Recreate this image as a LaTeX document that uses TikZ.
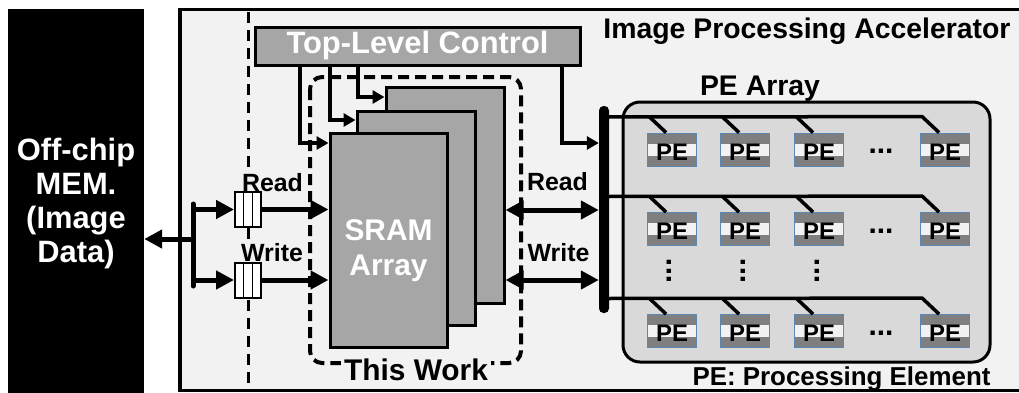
\documentclass[tikz,border=0pt]{standalone}
\usepackage{fontspec}
\setmainfont{Liberation Sans}
\usetikzlibrary{arrows.meta}
\definecolor{bgc}{HTML}{F2F2F2}
\definecolor{blkgray}{HTML}{A6A6A6}
\definecolor{pearr}{HTML}{D9D9D9}
\definecolor{pegray}{HTML}{7F7F7F}
\definecolor{peblue}{HTML}{5B87B5}
\newcommand{\fsz}[1]{\fontsize{#1}{#1}\selectfont}
\begin{document}
\begin{tikzpicture}[x=1bp,y=-1bp,font=\bfseries,
  bigarr/.style={line width=5bp,-{Triangle[length=18bp,width=18bp]}},
  dblarr/.style={line width=5bp,{Triangle[length=18bp,width=18bp]}-{Triangle[length=18bp,width=18bp]}},
  ctrlarr/.style={line width=3.5bp,-{Triangle[length=12bp,width=13bp]}},
  grayblk/.style={draw,line width=3bp,fill=blkgray,inner sep=0pt},
  regbox/.style={draw,line width=2bp,fill=white,minimum width=26bp,minimum height=35bp,inner sep=0pt,
     path picture={\draw[line width=1.5bp]
       ([xshift=-4.3bp]path picture bounding box.north) -- ([xshift=-4.3bp]path picture bounding box.south)
       ([xshift=4.3bp]path picture bounding box.north) -- ([xshift=4.3bp]path picture bounding box.south);}},
  pebox/.style={draw=peblue,line width=0.8bp,fill=pegray,minimum width=49bp,minimum height=33bp,inner sep=0pt,
     font=\bfseries\fsz{24},text height=21.5bp,text depth=0pt,
     path picture={\fill[bgc] ([yshift=6bp]path picture bounding box.west) rectangle ([yshift=-6bp]path picture bounding box.east);}},
  busline/.style={line width=3.5bp},
  txt/.style={inner sep=0pt,anchor=base},
  dotstxt/.style={inner sep=0pt,font=\bfseries\fsz{30}},
]
\useasboundingbox (0,0) rectangle (1019,392);
% accelerator frame
\draw[line width=3.5bp,fill=bgc] (180,9.5) rectangle (1024,390.5);
\coordinate (dtop) at (248,12);
\coordinate (dbot) at (248,390);
\draw[line width=3bp,dash pattern=on 11bp off 7bp] (dtop) -- (dbot);
\node[txt,font=\bfseries\fsz{28.5}] (title) at (807,38) {Image Processing Accelerator};
% off-chip memory
\node[fill=black,minimum width=136bp,minimum height=392bp,inner sep=0pt] (mem) at (76,204.5) {};
\node[text=white,align=center,font=\bfseries\fontsize{31}{34.3}\selectfont,inner sep=0pt] (memtxt) at (76,203.6) {Off-chip\\MEM.\\(Image\\Data)};
% top-level control
\node[grayblk,minimum width=325bp,minimum height=38bp,text=white,font=\bfseries\fsz{31}] (tlc) at (417.5,46) {Top-Level Control};
% SRAM arrays
\node[grayblk,minimum width=118bp,minimum height=216bp] (back) at (445,195) {};
\node[grayblk,minimum width=118bp,minimum height=214bp] (mid) at (416,218) {};
\node[grayblk,minimum width=117bp,minimum height=214bp] (front) at (388.5,240) {};
\node[text=white,align=center,font=\bfseries\fontsize{30}{35}\selectfont,inner sep=0pt] (sramt) at (388.5,250.5) {SRAM\\Array};
% this work
\draw[line width=4bp,dash pattern=on 11bp off 6bp,rounded corners=12bp] (310,77) rectangle (521,363);
\node[txt,fill=bgc,inner xsep=3bp,inner ysep=2bp,font=\bfseries\fsz{30}] (tw) at (416,380) {This Work};
% PE array
\node[draw,line width=3bp,fill=pearr,rounded corners=17bp,minimum width=367bp,minimum height=260bp,inner sep=0pt] (pearray) at (806.5,232) {};
\node[txt,font=\bfseries\fsz{28.5}] (pearrt) at (760,95) {PE Array};
\foreach \r/\y in {1/149.5,2/229,3/331} {
  \foreach \c/\x in {1/672,2/745,3/819,4/945} {
    \node[pebox] (pe\r\c) at (\x,\y) {PE};
  }
  \node[dotstxt,anchor=base] (hd\r) at (881,\y+4) {...};
}
\foreach \c/\x in {1/669.5,2/743,3/817} {
  \node[dotstxt,rotate=90] (vd\c) at (\x,271) {...};
}
\node[txt,font=\bfseries\fsz{26}] (pedef) at (841.5,385) {PE: Processing Element};
% bus bar
\node[fill=black,rounded corners=4.5bp,minimum width=10bp,minimum height=207bp,inner sep=0pt] (bar) at (604,209.5) {};
\foreach \r/\ly in {1/117,2/196.5,3/298.5} {
  \draw[busline] (pe\r4.north west) ++(19,0) -- ++(-17,-16) -- (bar.center |- 0,\ly);
  \foreach \c in {1,2,3} {
    \draw[busline] (pe\r\c.north west) ++(19,0) -- ++(-17,-16);
  }
}
% control arrows
\draw[ctrlarr] (300,0 |- tlc.south) |- (front.west |- 0,143);
\draw[ctrlarr] (330,0 |- tlc.south) |- (mid.west |- 0,120);
\draw[ctrlarr] (358,0 |- tlc.south) |- (back.west |- 0,97);
\draw[ctrlarr] (562,0 |- tlc.south) |- (bar.west |- 0,143);
% left side
\node[txt,fill=bgc,inner sep=1.5bp,font=\bfseries\fsz{25}] (rdl) at (272.5,191.5) {Read};
\node[txt,fill=bgc,inner sep=1.5bp,font=\bfseries\fsz{25}] (wrl) at (272,261.5) {Write};
\node[regbox] (rreg) at (248,209.5) {};
\node[regbox] (wreg) at (248,280) {};
\coordinate (jtop) at (193,204);
\coordinate (jbot) at (193,286);
\coordinate (jt) at (193,209.5);
\coordinate (jb) at (193,280);
\coordinate (jm) at (193,239);
\draw[line width=5bp,line cap=round] (jtop) -- (jbot);
\draw[bigarr] (jm) -- (mem.east |- jm);
\draw[bigarr] (jt) -- (rreg.west);
\draw[bigarr] (jb) -- (wreg.west);
\draw[bigarr] (rreg.east) -- (front.west |- rreg.east);
\draw[bigarr] (wreg.east) -- (front.west |- wreg.east);
% right side
\node[txt,font=\bfseries\fsz{25}] (rdr) at (557.5,190) {Read};
\node[txt,font=\bfseries\fsz{25}] (wrr) at (558.5,261.5) {Write};
\draw[dblarr] (back.east |- 0,210) -- (bar.west |- 0,210);
\draw[dblarr] (back.east |- 0,280) -- (bar.west |- 0,280);
\end{tikzpicture}
\end{document}
